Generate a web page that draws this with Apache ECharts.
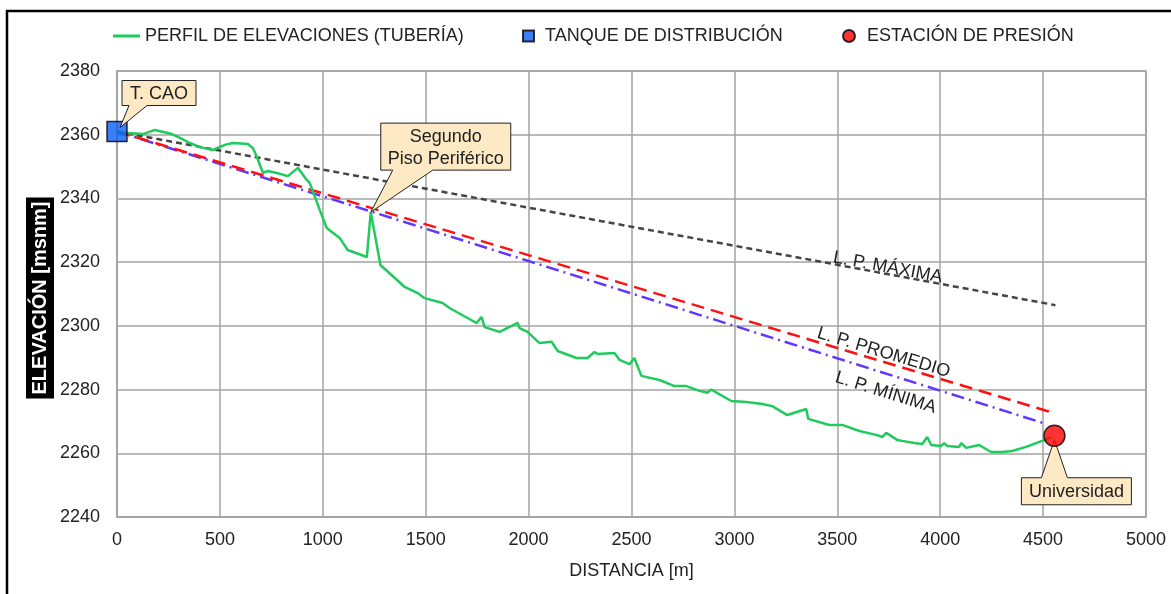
<!DOCTYPE html>
<html><head><meta charset="utf-8">
<script src="https://cdn.jsdelivr.net/npm/echarts@6/dist/echarts.min.js"></script>
<style>html,body{margin:0;padding:0;background:#fff}#c{width:1171px;height:594px}</style>
</head><body><div id="c"></div>
<script>
// ---- data ----
const distancia = [0, 53, 126, 184, 267, 306, 354, 403, 466, 524, 563, 636, 660, 680, 709, 733, 777, 830, 879, 922, 937, 985, 1019, 1082, 1121, 1214, 1233, 1280, 1398, 1461, 1495, 1582, 1616, 1747, 1771, 1786, 1859, 1947, 1956, 1995, 2053, 2112, 2141, 2233, 2286, 2320, 2335, 2417, 2442, 2490, 2514, 2548, 2636, 2709, 2767, 2830, 2869, 2888, 2985, 3058, 3136, 3184, 3257, 3349, 3359, 3461, 3524, 3607, 3694, 3718, 3738, 3791, 3815, 3874, 3913, 3937, 3956, 4005, 4019, 4034, 4092, 4102, 4126, 4189, 4247, 4301, 4349, 4417, 4495, 4540];
const elevacion = [2361, 2360.5, 2360.2, 2361.5, 2360.2, 2359, 2357.4, 2356.1, 2355.2, 2356.8, 2357.4, 2357.1, 2355.8, 2353, 2348, 2348.6, 2348, 2347, 2349.6, 2345.8, 2344.8, 2336.4, 2330.7, 2327.6, 2323.8, 2321.6, 2335.7, 2319.1, 2312.2, 2310.3, 2308.7, 2307.2, 2305.6, 2300.9, 2302.8, 2299.6, 2298.1, 2300.9, 2299.3, 2298.1, 2294.6, 2295, 2292.1, 2289.9, 2289.9, 2291.8, 2291.2, 2291.5, 2289.3, 2288, 2289.9, 2284.3, 2283, 2281.1, 2281.1, 2279.6, 2279, 2280, 2276.4, 2276.1, 2275.5, 2274.8, 2272, 2273.9, 2270.8, 2268.9, 2268.9, 2267, 2265.7, 2265.1, 2266.4, 2264.2, 2263.9, 2263.2, 2262.9, 2265.1, 2262.6, 2262.3, 2263.2, 2262.3, 2262, 2263.2, 2261.7, 2262.6, 2260.4, 2260.4, 2260.7, 2262, 2263.9, 2265];
const lpMaximaX = [0, 4560];
const lpMaximaY = [2361, 2306.5];
const lpPromedioX = [0, 4560];
const lpPromedioY = [2361, 2272.5];
const lpMinimaX = [0, 4500];
const lpMinimaY = [2361, 2269.5];
const tanque = [[0, 2361]];
const estacion = [[4555, 2265.5]];
const segundoPiso = [1233, 2335.7];
const xAxisTicks = [0, 5000, 500];   // min, max, interval
const yAxisTicks = [2240, 2380, 20];
const seriesNames = ['PERFIL DE ELEVACIONES (TUBERÍA)', 'TANQUE DE DISTRIBUCIÓN', 'ESTACIÓN DE PRESIÓN', 'L. P. MÁXIMA', 'L. P. PROMEDIO', 'L. P. MÍNIMA'];

const zip = (xs, ys) => xs.map((x, i) => [x, ys[i]]);
const FONT = 'Liberation Sans, Arial, sans-serif';
const FS = 18;
const TXT = '#222';
const GRIDC = '#a3a3a3';

const chart = echarts.init(document.getElementById('c'));
const legendText = { fontFamily: FONT, fontSize: FS, color: TXT };
const option = {
  animation: false,
  backgroundColor: '#fff',
  grid: { left: 117, right: 25, top: 71, bottom: 77, show: true, borderColor: GRIDC, borderWidth: 1.5, backgroundColor: 'transparent' },
  legend: [
    { data: [{ name: seriesNames[0], icon: 'rect' }], left: 113, top: 27, padding: 0, itemWidth: 27, itemHeight: 3, textStyle: legendText },
    { data: [{ name: seriesNames[1], icon: 'rect' }], left: 522, top: 27, padding: 0, itemWidth: 11, itemHeight: 11, textStyle: Object.assign({ padding: [0, 0, 0, 6] }, legendText) },
    { data: [{ name: seriesNames[2], icon: 'circle' }], left: 842, top: 27, padding: 0, itemWidth: 12, itemHeight: 12, textStyle: Object.assign({ padding: [0, 0, 0, 7] }, legendText) }
  ],
  xAxis: {
    type: 'value', min: xAxisTicks[0], max: xAxisTicks[1], interval: xAxisTicks[2],
    name: 'DISTANCIA [m]', nameLocation: 'middle', nameGap: 45,
    nameTextStyle: { fontFamily: FONT, fontSize: FS, color: TXT },
    axisLine: { show: true, lineStyle: { color: GRIDC, width: 1.5 } },
    axisTick: { show: false },
    axisLabel: { fontFamily: FONT, fontSize: FS, color: TXT, margin: 14, formatter: v => String(v) },
    splitLine: { show: true, lineStyle: { color: GRIDC, width: 1.5 } }
  },
  yAxis: {
    type: 'value', min: yAxisTicks[0], max: yAxisTicks[1], interval: yAxisTicks[2],
    axisLine: { show: true, lineStyle: { color: GRIDC, width: 1.5 } },
    axisTick: { show: false },
    axisLabel: { fontFamily: FONT, fontSize: FS, color: TXT, margin: 17, formatter: v => String(v) },
    splitLine: { show: true, lineStyle: { color: GRIDC, width: 1.5 } }
  },
  series: [
    { name: seriesNames[0], type: 'line', data: zip(distancia, elevacion), symbol: 'none', z: 4,
      lineStyle: { color: '#1fcb5c', width: 2.5 }, itemStyle: { color: '#1fcb5c' } },
    { name: seriesNames[3], type: 'line', data: zip(lpMaximaX, lpMaximaY), symbol: 'none', z: 3,
      lineStyle: { color: '#454545', width: 2.5, type: [6, 4] } },
    { name: seriesNames[4], type: 'line', data: zip(lpPromedioX, lpPromedioY), symbol: 'none', z: 3,
      lineStyle: { color: '#ff1010', width: 2.5, type: [13, 7] } },
    { name: seriesNames[5], type: 'line', data: zip(lpMinimaX, lpMinimaY), symbol: 'none', z: 2,
      lineStyle: { color: '#6236ff', width: 2.5, type: [13, 5, 2, 5] } },
    { name: seriesNames[1], type: 'scatter', data: tanque, symbol: 'rect', symbolSize: 20, z: 6,
      itemStyle: { color: '#0b5ef2', borderColor: '#000', borderWidth: 1.5 } },
    { name: seriesNames[2], type: 'scatter', data: estacion, symbol: 'circle', symbolSize: 21, z: 12,
      itemStyle: { color: '#ff0000', borderColor: '#000', borderWidth: 1.5 } }
  ]
};
chart.setOption(option);

const px = p => chart.convertToPixel({ gridIndex: 0 }, p);
const BUB = { fill: '#fde9c3', stroke: '#222', lineWidth: 1 };

function bubble(anchor, dx, dy, w, h, side, b1, b2, tdx, tdy, lines, z) {
  const [ax, ay] = px(anchor);
  const L = ax + dx, T = ay + dy, R = L + w, B = T + h;
  const tip = [ax + tdx, ay + tdy];
  let pts;
  if (side === 'bottom') pts = [[L, T], [R, T], [R, B], [ax + b2, B], tip, [ax + b1, B], [L, B]];
  else pts = [[L, T], [ax + b1, T], tip, [ax + b2, T], [R, T], [R, B], [L, B]];
  const els = [{ type: 'polygon', z: z, shape: { points: pts }, style: BUB }];
  const lh = 22;
  const cy = (T + B) / 2 - (lines.length - 1) * lh / 2 + 1;
  lines.forEach((t, i) => els.push({ type: 'text', z: z + 1, style: { text: t, x: (L + R) / 2, y: cy + i * lh, align: 'center', verticalAlign: 'middle', textAlign: 'center', textVerticalAlign: 'middle', font: FS + 'px ' + FONT, fill: TXT } }));
  return els;
}

function lineLabel(xs, ys, at, text) {
  const a = px([xs[0], ys[0]]), b = px([xs[1], ys[1]]);
  const ang = Math.atan2(b[1] - a[1], b[0] - a[0]);
  const p = px(at);
  return { type: 'text', z: 8, x: p[0], y: p[1], rotation: -ang,
    style: { text: text, x: 0, y: 0, align: 'center', verticalAlign: 'middle', textAlign: 'center', textVerticalAlign: 'middle', font: FS + 'px ' + FONT, fill: TXT } };
}

const pTop = px([xAxisTicks[0], yAxisTicks[1]]), pBot = px([xAxisTicks[0], yAxisTicks[0]]);
const graphics = [
  { type: 'rect', z: 20, silent: true, shape: { x: 7, y: 11, width: 1175, height: 600 }, style: { fill: 'none', stroke: '#000', lineWidth: 2.5 } },
  { type: 'text', z: 8, x: pTop[0] - 77, y: (pTop[1] + pBot[1]) / 2 + 4, rotation: Math.PI / 2,
    style: { text: 'ELEVACIÓN [msnm]', x: 0, y: 0, align: 'center', verticalAlign: 'middle', textAlign: 'center', textVerticalAlign: 'middle',
      font: 'bold 20px ' + FONT, fill: '#fff', backgroundColor: '#000', padding: [5, 4, 3, 4] } },
  ...bubble(tanque[0], 5, -51, 74, 25, 'bottom', 12, 30, 3, -4, ['T. CAO'], 9),
  ...bubble(segundoPiso, 10, -89, 130, 47, 'bottom', 22, 62, 0, 0, ['Segundo', 'Piso Periférico'], 9),
  ...bubble(estacion[0], -33, 42, 110, 27, 'top', -13, 13, 0, 4, ['Universidad'], 9),
  lineLabel(lpMaximaX, lpMaximaY, [3745, 2318.3], seriesNames[3]),
  lineLabel(lpPromedioX, lpPromedioY, [3725, 2291.6], seriesNames[4]),
  lineLabel(lpMinimaX, lpMinimaY, [3735, 2279], seriesNames[5])
];
chart.setOption({ graphic: graphics });
</script>
</body></html>
